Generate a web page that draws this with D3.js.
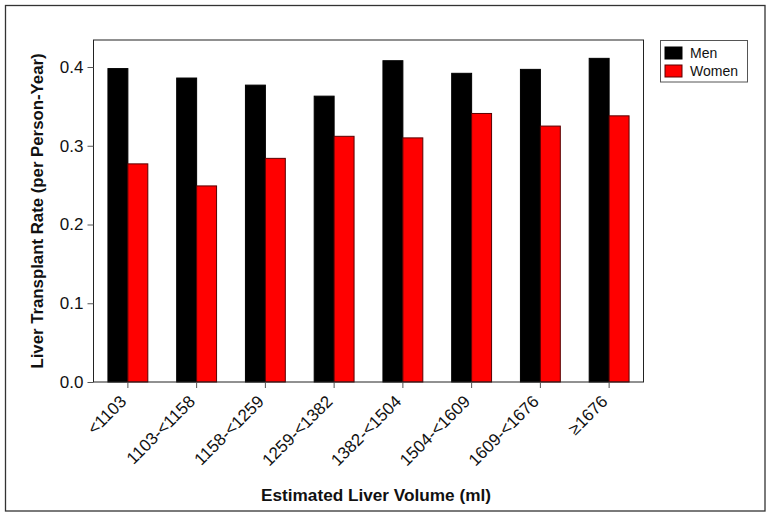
<!DOCTYPE html>
<html><head><meta charset="utf-8">
<script src="https://cdn.jsdelivr.net/npm/d3@7"></script>
<style>body{margin:0;background:#fff}svg{display:block;font-family:"Liberation Sans",Arial,sans-serif}</style>
</head><body><svg id="c" width="771" height="517"></svg>
<script>
const categories = ["<1103","1103-<1158","1158-<1259","1259-<1382","1382-<1504","1504-<1609","1609-<1676","≥1676"];
const seriesNames = ["Men","Women"];
const men = [0.398,0.386,0.377,0.363,0.408,0.392,0.397,0.411];
const women = [0.277,0.249,0.284,0.312,0.310,0.341,0.325,0.338];
const yTicks = [0.0,0.1,0.2,0.3,0.4];
const colors = ["#000000","#ff0000"];

const svg = d3.select("#c");
const m={left:93.5,right:643.5,top:40,bottom:382};
svg.append("rect").attr("x",5.5).attr("y",5.5).attr("width",759.5).attr("height",505.5).attr("fill","none").attr("stroke","#333").attr("stroke-width",1.3);

const x = d3.scaleBand().domain(categories).range([m.left,m.right]).paddingInner(0.42).paddingOuter(0.21);
const xs = d3.scaleBand().domain(seriesNames).range([0,x.bandwidth()]);
const y = d3.scaleLinear().domain([0,0.4343]).range([m.bottom,m.top]);

const g = svg.append("g");
categories.forEach((c,i)=>{
  [men[i],women[i]].forEach((v,j)=>{
    g.append("rect").attr("x",x(c)+xs(seriesNames[j])).attr("y",y(v))
     .attr("width",xs.bandwidth()).attr("height",y(0)-y(v))
     .attr("fill",colors[j]).attr("stroke",j===0?"#000":"#5a0000").attr("stroke-width",1);
  });
});

svg.append("rect").attr("x",m.left).attr("y",m.top).attr("width",m.right-m.left).attr("height",m.bottom-m.top)
  .attr("fill","none").attr("stroke","#222").attr("stroke-width",1);

const ya = svg.append("g").attr("transform",`translate(${m.left},0)`)
  .call(d3.axisLeft(y).tickValues(yTicks).tickFormat(d3.format(".1f")).tickSize(6).tickSizeOuter(0));
ya.select(".domain").remove();
ya.selectAll("line").attr("stroke","#555");
ya.selectAll("text").attr("font-size",17).attr("fill","#111").attr("dx","-1");

const xa = svg.append("g").attr("transform",`translate(0,${m.bottom})`)
  .call(d3.axisBottom(x).tickSize(6).tickSizeOuter(0));
xa.select(".domain").remove();
xa.selectAll("line").attr("stroke","#555");
xa.selectAll("text").attr("font-size",17).attr("fill","#111")
  .attr("text-anchor","end").attr("transform","translate(-9,12) rotate(-45)").attr("dy","0.71em").attr("y",0);

svg.append("text").attr("x",376).attr("y",501).attr("text-anchor","middle")
  .attr("font-size",17.2).attr("font-weight","bold").attr("fill","#111").text("Estimated Liver Volume (ml)");
svg.append("text").attr("transform",`translate(43,211) rotate(-90)`).attr("text-anchor","middle")
  .attr("font-size",16.8).attr("font-weight","bold").attr("fill","#111").text("Liver Transplant Rate (per Person-Year)");

const lg = svg.append("g");
lg.append("rect").attr("x",660.5).attr("y",40.5).attr("width",87).attr("height",41.5).attr("fill","#fff").attr("stroke","#555");
seriesNames.forEach((s,i)=>{
  lg.append("rect").attr("x",665).attr("y",47+i*18).attr("width",17).attr("height",12).attr("fill",colors[i]).attr("stroke",i===0?"#000":"#5a0000");
  lg.append("text").attr("x",690).attr("y",58+i*18).attr("font-size",14).attr("fill","#111").text(s);
});
</script></body></html>
